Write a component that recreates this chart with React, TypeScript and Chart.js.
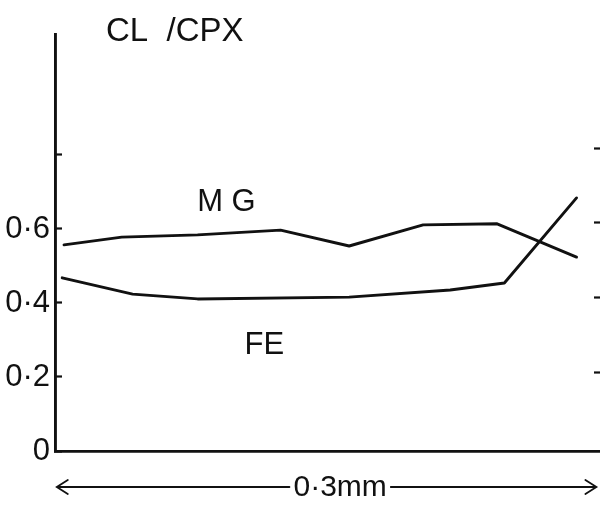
import React, { useEffect, useRef } from "react";
import { Chart, registerables } from "chart.js";

Chart.register(...registerables);

// Traverse position along the crystal (mm) and CL/CPX ratios
const mgDistance = [0.005, 0.037, 0.079, 0.125, 0.163, 0.204, 0.245, 0.289];
const mgRatio = [0.557, 0.578, 0.584, 0.597, 0.554, 0.611, 0.614, 0.524];

const feDistance = [0.004, 0.043, 0.079, 0.163, 0.219, 0.249, 0.289];
const feRatio = [0.468, 0.424, 0.411, 0.416, 0.435, 0.454, 0.684];

// Left axis ticks and their printed labels (0·8 is ticked but unlabelled)
const yTickValues = [0, 0.2, 0.4, 0.6, 0.8];
const yTickLabels = ["0", "0·2", "0·4", "0·6", ""];
// Bare tick marks on the right-hand edge
const rightTickValues = [0.2, 0.4, 0.6, 0.8];

const titleText = "CL  /CPX";
const seriesNames = ["MG", "FE"];
const traverseLabel = "0·3mm";
const traverseLength = 0.3;

const FONT = "'Liberation Sans', Arial, sans-serif";
const INK = "#111";

const annotations = {
  id: "annotations",
  afterDraw(chart: any) {
    const { ctx, chartArea, scales } = chart;
    const x = scales.x;
    const y = scales.y;
    ctx.save();
    ctx.fillStyle = INK;
    ctx.strokeStyle = INK;
    ctx.textBaseline = "middle";

    // Title
    ctx.font = `33px ${FONT}`;
    ctx.textAlign = "left";
    ctx.fillText(titleText, chartArea.left + 51, chartArea.top - 2);

    // Series names beside their lines
    ctx.font = `31px ${FONT}`;
    ctx.textAlign = "center";
    ctx.fillText(seriesNames[0].split("").join(" "), x.getPixelForValue(0.095), y.getPixelForValue(0.673));
    ctx.fillText(seriesNames[1], x.getPixelForValue(0.116), y.getPixelForValue(0.286));

    // Double-headed scale arrow with its length
    const ay = chartArea.bottom + 36;
    const ax0 = x.getPixelForValue(0.001);
    const ax1 = x.getPixelForValue(traverseLength);
    const tx = x.getPixelForValue(0.158);
    ctx.font = `30px ${FONT}`;
    const tw = ctx.measureText(traverseLabel).width;
    ctx.fillText(traverseLabel, tx, ay + 1);
    ctx.lineWidth = 1.8;
    ctx.lineCap = "round";
    ctx.beginPath();
    ctx.moveTo(ax0, ay);
    ctx.lineTo(tx - tw / 2 - 4, ay);
    ctx.moveTo(tx + tw / 2 + 4, ay);
    ctx.lineTo(ax1, ay);
    ctx.moveTo(ax0 + 11, ay - 7);
    ctx.lineTo(ax0, ay);
    ctx.lineTo(ax0 + 11, ay + 7);
    ctx.moveTo(ax1 - 11, ay - 7);
    ctx.lineTo(ax1, ay);
    ctx.lineTo(ax1 - 11, ay + 7);
    ctx.stroke();
    ctx.restore();
  },
};

export default function App() {
  const canvasRef = useRef<HTMLCanvasElement>(null);

  useEffect(() => {
    if (!canvasRef.current) return;
    const toPoints = (xs: number[], ys: number[]) => xs.map((v, i) => ({ x: v, y: ys[i] }));
    const lineStyle = {
      borderColor: INK,
      borderWidth: 2.9,
      pointRadius: 0,
      tension: 0,
      fill: false,
      borderCapStyle: "round" as const,
      borderJoinStyle: "round" as const,
    };
    const chart = new Chart(canvasRef.current, {
      type: "line",
      data: {
        datasets: [
          { label: seriesNames[0], data: toPoints(mgDistance, mgRatio), ...lineStyle },
          { label: seriesNames[1], data: toPoints(feDistance, feRatio), ...lineStyle },
        ],
      },
      options: {
        responsive: false,
        animation: false,
        layout: { padding: { top: 34, right: 0, bottom: 0, left: 0 } },
        plugins: { legend: { display: false }, tooltip: { enabled: false } },
        scales: {
          x: {
            type: "linear",
            min: 0,
            max: 0.302,
            ticks: { display: false },
            grid: { display: false },
            border: { display: true, color: INK, width: 2.8 },
            afterFit: (s: any) => {
              s.height = 65;
            },
          },
          y: {
            type: "linear",
            position: "left",
            min: 0,
            max: 1.127,
            afterBuildTicks: (s: any) => {
              s.ticks = yTickValues.map((v) => ({ value: v }));
            },
            ticks: {
              color: INK,
              padding: 12,
              font: { family: FONT, size: 31 },
              callback: (v: any) => {
                const i = yTickValues.indexOf(Number(v));
                return i >= 0 ? yTickLabels[i] : "";
              },
            },
            grid: {
              display: true,
              drawOnChartArea: false,
              drawTicks: true,
              tickLength: -7,
              tickWidth: 2.2,
              tickColor: INK,
            },
            border: { display: true, color: INK, width: 2.9 },
            afterFit: (s: any) => {
              s.width = 55;
            },
          },
          yRight: {
            type: "linear",
            position: "right",
            min: -0.0115,
            max: 1.1055,
            afterBuildTicks: (s: any) => {
              s.ticks = rightTickValues.map((v) => ({ value: v }));
            },
            ticks: { display: false },
            grid: {
              display: true,
              drawOnChartArea: false,
              drawTicks: true,
              tickLength: -6,
              tickWidth: 2.2,
              tickColor: INK,
            },
            border: { display: false },
            afterFit: (s: any) => {
              s.width = 0;
            },
          },
        },
      },
      plugins: [annotations],
    });
    return () => chart.destroy();
  }, []);

  return (
    <div style={{ position: "absolute", left: 0, top: 0, width: 600, height: 516, background: "#fff" }}>
      <canvas ref={canvasRef} width={600} height={516} />
    </div>
  );
}
